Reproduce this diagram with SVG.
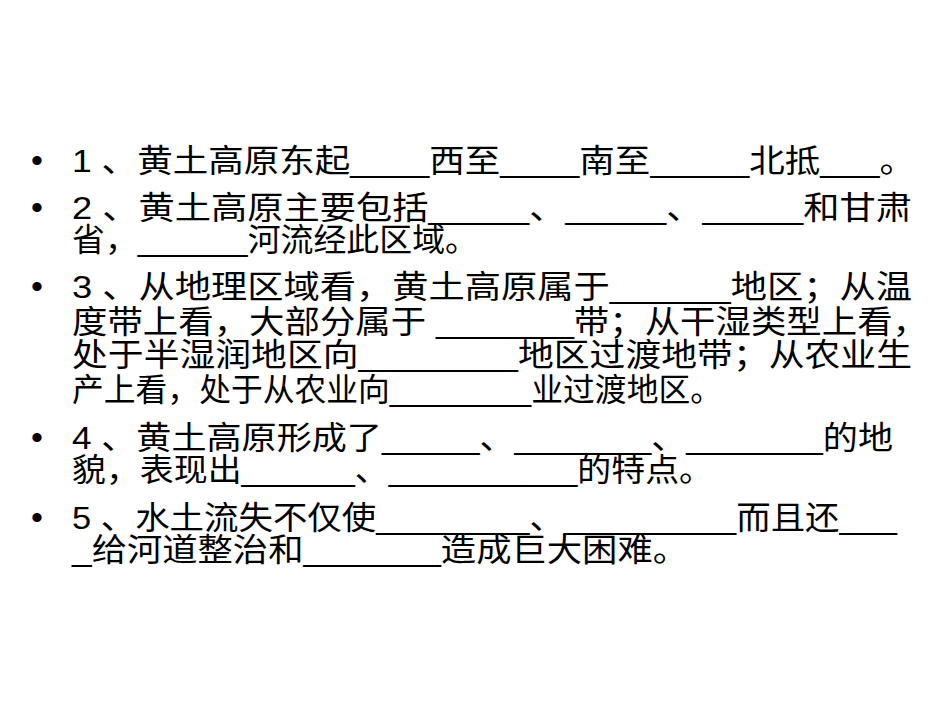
<svg xmlns="http://www.w3.org/2000/svg" width="950" height="713" viewBox="0 0 950 713">
<style>
text{font-family:"Liberation Sans","Noto Sans CJK SC",sans-serif;font-size:32px;fill:#000}
.b{font-size:34px}
</style>
<rect width="950" height="713" fill="#fff"/>
<g id="q1">
<text class="b" x="31" y="172">•</text>
<text x="72" y="172" textLength="843" lengthAdjust="spacingAndGlyphs">1 、黄土高原东起____西至____南至_____北抵___。</text>
</g>
<g id="q2">
<text class="b" x="31" y="219">•</text>
<text x="72" y="219" textLength="840" lengthAdjust="spacingAndGlyphs">2 、黄土高原主要包括_____、_____、_____和甘肃</text>
<text x="72" y="251" textLength="406" lengthAdjust="spacingAndGlyphs">省，______河流经此区域。</text>
</g>
<g id="q3">
<text class="b" x="31" y="298">•</text>
<text x="72" y="298" textLength="840" lengthAdjust="spacingAndGlyphs">3 、从地理区域看，黄土高原属于______地区；从温</text>
<text x="72" y="333" textLength="856" lengthAdjust="spacingAndGlyphs">度带上看，大部分属于 _______带；从干湿类型上看，</text>
<text x="72" y="366" textLength="840" lengthAdjust="spacingAndGlyphs">处于半湿润地区向________地区过渡地带；从农业生</text>
<text x="72" y="401" textLength="650" lengthAdjust="spacingAndGlyphs">产上看，处于从农业向________业过渡地区。</text>
</g>
<g id="q4">
<text class="b" x="31" y="449">•</text>
<text x="72" y="449" textLength="821" lengthAdjust="spacingAndGlyphs">4 、黄土高原形成了_____、_______、_______的地</text>
<text x="72" y="481" textLength="641" lengthAdjust="spacingAndGlyphs">貌，表现出______、__________的特点。</text>
</g>
<g id="q5">
<text class="b" x="31" y="529">•</text>
<text x="72" y="529" textLength="825" lengthAdjust="spacingAndGlyphs">5 、水土流失不仅使________、_________而且还___</text>
<text x="72" y="561" textLength="616" lengthAdjust="spacingAndGlyphs">_给河道整治和_______造成巨大困难。</text>
</g>
</svg>
